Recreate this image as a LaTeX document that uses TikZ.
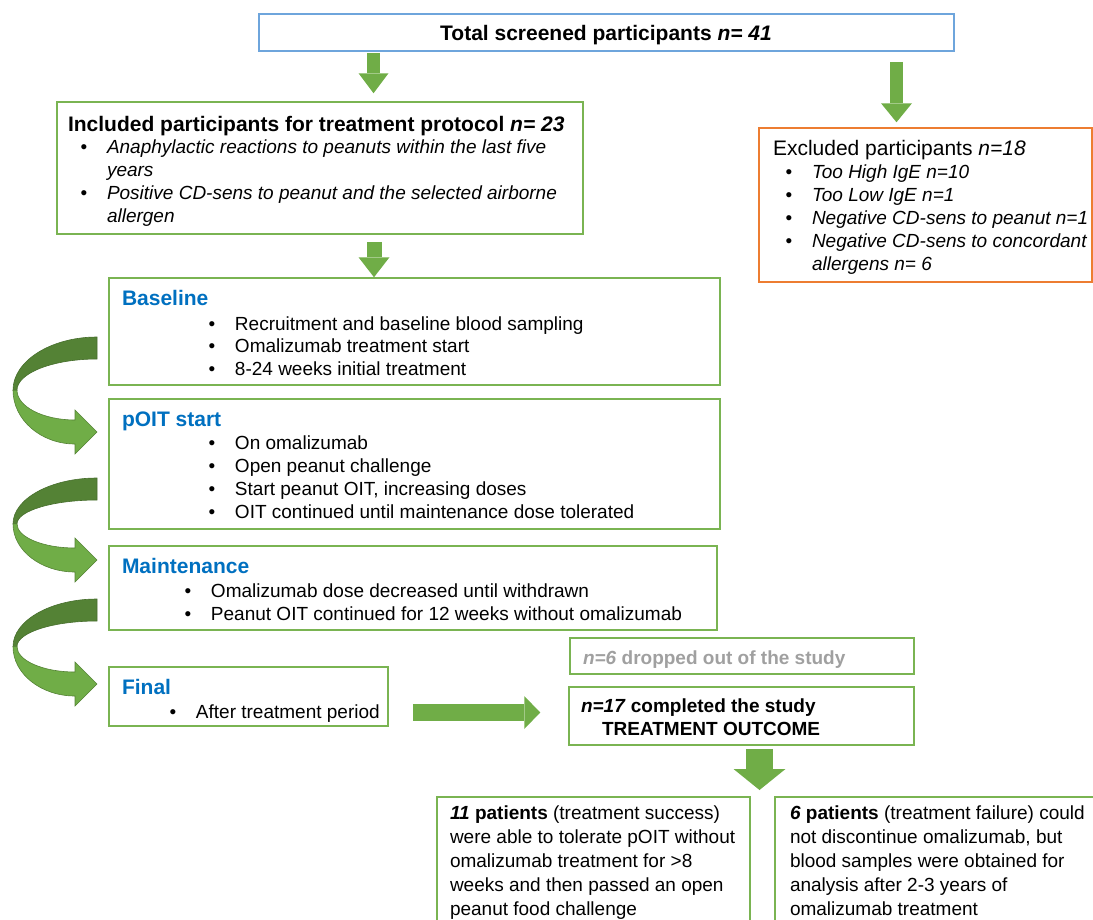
\documentclass[tikz,border=0pt]{standalone}
\usepackage{fontspec}
\setmainfont{Liberation Sans}
\usetikzlibrary{arrows.meta}

\definecolor{boxgreen}{RGB}{122,180,82}
\definecolor{arrowgreen}{RGB}{112,173,71}
\definecolor{darkgreen}{RGB}{84,130,53}
\definecolor{boxblue}{RGB}{110,165,220}
\definecolor{boxorange}{RGB}{237,125,49}
\definecolor{headblue}{RGB}{0,112,192}
\definecolor{dropgray}{RGB}{160,160,160}

\newcommand\bodyfont{\fontsize{19}{23}\selectfont}
\newcommand\headfont{\fontsize{21}{25}\selectfont}
% bulleted lines inside one text block
\newcommand\blist[1]{\begin{tabular}[t]{@{}l@{}}#1\end{tabular}}
\newcommand\bi{\makebox[26.3pt][l]{\upshape\textbullet}}
\newcommand\cont{\hspace*{26.3pt}}

\tikzset{
  box/.style={draw=#1, line width=1.5pt, inner sep=0pt, fill=white},
  txt/.style={anchor=base west, inner sep=0pt, outer sep=0pt},
  blockarrow/.style n args={3}{draw=arrowgreen, line width=#1,
    -{Triangle[width=#2, length=#3, line width=0pt]}},
  % twisted ribbon arrow, top right corner at the origin, #1 = height to the tip
  curvarrow/.pic={
    \pgfmathsetmacro\hh{#1}
    \pgfmathsetmacro\ll{0.56*#1}
    \pgfmathsetmacro\ca{0.45*\ll}
    \pgfmathsetmacro\cb{\ll-0.55*(\ll-22)}
    \pgfmathsetmacro\cc{\ll+0.55*(\hh+12-\ll)}
    \pgfmathsetmacro\cd{\ll+0.55*(\hh-12-\ll)}
    \fill[darkgreen, draw=darkgreen!85!black, line width=0.6pt]
      (0,0) .. controls (-46,0) and (-84,\ca) .. (-84,\ll)
      -- (-80,\ll) .. controls (-80,\cb) and (-44,22) .. (0,22) -- cycle;
    \fill[arrowgreen, draw=darkgreen, line width=0.6pt]
      (-84,\ll) .. controls (-84,\cc) and (-56,\hh+12) .. (-22,\hh+12)
      -- (-22,\hh+22) -- (0,\hh) -- (-22,\hh-22) -- (-22,\hh-12)
      .. controls (-54,\hh-12) and (-80,\cd) .. (-80,\ll) -- cycle;
  }
}

\begin{document}
\begin{tikzpicture}[x=1pt, y=-1pt]
\useasboundingbox (0,0) rectangle (1093,919);
\clip (0,0) rectangle (1093,919);

% ---------- boxes ----------
\node[box=boxblue,   minimum width=695pt, minimum height=37pt]  (top)   at (606.5,32.5) {};
\node[box=boxgreen,  minimum width=526pt, minimum height=132pt] (inc)   at (320,168) {};
\node[box=boxorange, minimum width=333pt, minimum height=154pt] (exc)   at (925.5,205) {};
\node[box=boxgreen,  minimum width=611pt, minimum height=107pt] (base)  at (414.5,331.5) {};
\node[box=boxgreen,  minimum width=611pt, minimum height=130pt] (poit)  at (414.5,464) {};
\node[box=boxgreen,  minimum width=608pt, minimum height=84pt]  (maint) at (413,588) {};
\node[box=boxgreen,  minimum width=279pt, minimum height=59pt]  (final) at (248.5,696.5) {};
\node[box=boxgreen,  minimum width=344pt, minimum height=36pt]  (drop)  at (742,656) {};
\node[box=boxgreen,  minimum width=345pt, minimum height=58pt]  (comp)  at (741.5,716) {};
\node[box=boxgreen,  minimum width=313pt, minimum height=153pt] (succ)  at (593.5,873.5) {};
\node[box=boxgreen,  minimum width=335pt, minimum height=153pt] (fail)  at (942.5,873.5) {};

% ---------- texts ----------
\node[txt, anchor=base] (top-t) at (606,40)
  {\headfont\bfseries Total screened participants \textit{n= 41}};

\node[txt] (inc-t) at (68,131.5)
  {\headfont\bfseries Included participants for treatment protocol \textit{n= 23}};
\node[txt] (inc-l) at (80.7,153) {\bodyfont\itshape\blist{%
  \bi Anaphylactic reactions to peanuts within the last five\\
  \cont years\\
  \bi Positive CD-sens to peanut and the selected airborne\\
  \cont allergen}};

\node[txt] (exc-t) at (773,155.5)
  {\headfont Excluded participants \textit{n=18}};
\node[txt] (exc-l) at (785.7,178) {\bodyfont\itshape\blist{%
  \bi Too High IgE n=10\\
  \bi Too Low IgE n=1\\
  \bi Negative CD-sens to peanut n=1\\
  \bi Negative CD-sens to concordant\\
  \cont allergens n= 6}};

\node[txt] (base-t) at (122,305.5)
  {\headfont\bfseries\color{headblue}Baseline};
\node[txt] (base-l) at (208.7,330) {\bodyfont\fontsize{19}{22.5}\selectfont\blist{%
  \bi Recruitment and baseline blood sampling\\
  \bi Omalizumab treatment start\\
  \bi 8-24 weeks initial treatment}};

\node[txt] (poit-t) at (122,426)
  {\headfont\bfseries\color{headblue}pOIT start};
\node[txt] (poit-l) at (208.7,449) {\bodyfont\fontsize{19}{23.3}\selectfont\blist{%
  \bi On omalizumab\\
  \bi Open peanut challenge\\
  \bi Start peanut OIT, increasing doses\\
  \bi OIT continued until maintenance dose tolerated}};

\node[txt] (maint-t) at (122,573.5)
  {\headfont\bfseries\color{headblue}Maintenance};
\node[txt] (maint-l) at (184.7,597) {\bodyfont\blist{%
  \bi Omalizumab dose decreased until withdrawn\\
  \bi Peanut OIT continued for 12 weeks without omalizumab}};

\node[txt] (final-t) at (122,694.5)
  {\headfont\bfseries\color{headblue}Final};
\node[txt] (final-l) at (169.7,718) {\bodyfont\blist{\bi After treatment period}};

\node[txt] (drop-t) at (583,664)
  {\bodyfont\bfseries\color{dropgray}\textit{n=6} dropped out of the study};

\node[txt] (comp-t) at (581,712)
  {\bodyfont\bfseries\textit{n=17} completed the study};
\node[txt] (comp-o) at (602,735)
  {\bodyfont\bfseries TREATMENT OUTCOME};

\node[txt] (succ-t) at (450,819) {\bodyfont\fontsize{19}{24}\selectfont\blist{%
  \textbf{\textit{11} patients} (treatment success)\\
  were able to tolerate pOIT without\\
  omalizumab treatment for >8\\
  weeks and then passed an open\\
  peanut food challenge}};

\node[txt] (fail-t) at (790,819) {\bodyfont\fontsize{19}{24}\selectfont\blist{%
  \textbf{\textit{6} patients} (treatment failure) could\\
  not discontinue omalizumab, but\\
  blood samples were obtained for\\
  analysis after 2-3 years of\\
  omalizumab treatment}};

% ---------- straight block arrows ----------
\coordinate (xA) at (373.5,0);
\coordinate (xB) at (896.5,0);
\coordinate (xC) at (374,0);
\coordinate (yR) at (0,712.5);
\coordinate (split) at (759.5,797);

\draw[blockarrow={13pt}{30pt}{20pt}, shorten <=1.3pt, shorten >=8pt]
  (top.south -| xA) -- (inc.north -| xA);
\draw[blockarrow={13pt}{31pt}{19pt}, shorten <=10pt, shorten >=5pt]
  (top.south -| xB) -- (exc.north -| xB);
\draw[blockarrow={15pt}{31pt}{20pt}, shorten <=7pt, shorten >=0pt]
  (inc.south -| xC) -- (base.north -| xC);
\draw[blockarrow={17pt}{33pt}{16pt}, shorten <=24pt, shorten >=28pt]
  (final.east |- yR) -- (comp.west |- yR);
\draw[blockarrow={27pt}{52pt}{21pt}, shorten <=3pt, shorten >=7pt]
  (comp.south -| split) -- (split);

% ---------- curved ribbon arrows between the phases ----------
\pic at (97,337) {curvarrow=95};
\pic at (97,478) {curvarrow=82};
\pic at (97,599) {curvarrow=85};

\end{tikzpicture}
\end{document}
